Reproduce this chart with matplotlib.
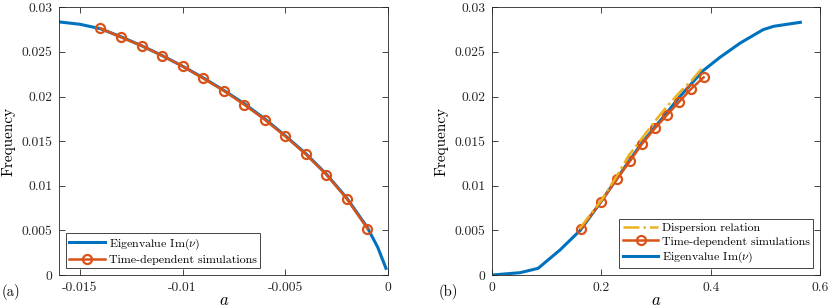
import numpy as np
import matplotlib
matplotlib.use("Agg")
import matplotlib.pyplot as plt

plt.rcParams['font.family'] = 'serif'
plt.rcParams['font.serif'] = ['cmr10', 'DejaVu Serif']
plt.rcParams['mathtext.fontset'] = 'cm'
plt.rcParams['axes.unicode_minus'] = False

# MATLAB default colours
c_blue = '#0072BD'
c_orange = '#D95319'
c_yellow = '#EDB120'

# (a) negative a
eig_a_x = [-0.016, -0.015, -0.014, -0.013, -0.012, -0.011, -0.010, -0.009, -0.008,
           -0.007, -0.006, -0.005, -0.004, -0.003, -0.002, -0.001, -0.0005, -0.0001]
eig_a_y = [0.02836, 0.0281, 0.0276, 0.0267, 0.0257, 0.0246, 0.0234, 0.0221, 0.0207,
           0.0192, 0.0175, 0.0156, 0.0136, 0.0113, 0.0086, 0.0053, 0.0031, 0.00075]
sim_a_x = [-0.014, -0.013, -0.012, -0.011, -0.010, -0.009, -0.008,
           -0.007, -0.006, -0.005, -0.004, -0.003, -0.002, -0.001]
sim_a_y = [0.02765, 0.02664, 0.0257, 0.02458, 0.02339, 0.02204, 0.02066,
           0.01909, 0.01741, 0.01554, 0.01352, 0.01125, 0.00852, 0.00519]

# (b) positive a
eig_b_x = [0.0, 0.051, 0.084, 0.124, 0.161, 0.199, 0.228, 0.252, 0.274, 0.298, 0.32,
           0.342, 0.364, 0.386, 0.417, 0.454, 0.496, 0.515, 0.564]
eig_b_y = [0.0, 0.00026, 0.00075, 0.0028, 0.0050, 0.0082, 0.0108, 0.0129, 0.0148, 0.0166,
           0.0182, 0.0199, 0.0214, 0.0229, 0.0244, 0.0260, 0.0275, 0.02787, 0.02832]
sim_b_x = [0.1618, 0.199, 0.2284, 0.2522, 0.2735, 0.2979, 0.3193, 0.342, 0.3632, 0.387]
sim_b_y = [0.00516, 0.00822, 0.01076, 0.01278, 0.01464, 0.01644, 0.0179, 0.01939, 0.02081, 0.02215]
disp_b_x = [0.16, 0.2, 0.23, 0.25, 0.275, 0.30, 0.32, 0.345, 0.365, 0.386]
disp_b_y = [0.0052, 0.0084, 0.0113, 0.0134, 0.0154, 0.0174, 0.0189, 0.0206, 0.0218, 0.0233]

y_ticks = [0, 0.005, 0.01, 0.015, 0.02, 0.025, 0.03]
y_labels = ['0', '0.005', '0.01', '0.015', '0.02', '0.025', '0.03']
xa_ticks = [-0.015, -0.01, -0.005, 0]
xa_labels = ['-0.015', '-0.01', '-0.005', '0']
xb_ticks = [0, 0.2, 0.4, 0.6]
xb_labels = ['0', '0.2', '0.4', '0.6']

fig = plt.figure(figsize=(8.3, 3.07), dpi=100)
ax1 = fig.add_axes([0.0715, 0.1042, 0.396, 0.872])
ax2 = fig.add_axes([0.593, 0.1042, 0.395, 0.872])

mk = dict(marker='o', markersize=6.5, markerfacecolor='none', markeredgewidth=1.6)

ax1.plot(eig_a_x, eig_a_y, color=c_blue, lw=2.2, label=r'Eigenvalue Im$(\nu)$')
ax1.plot(sim_a_x, sim_a_y, color=c_orange, lw=1.8, label='Time-dependent simulations', **mk)

ax2.plot(disp_b_x, disp_b_y, color=c_yellow, lw=1.8, ls='-.', label='Dispersion relation', zorder=4)
ax2.plot(sim_b_x, sim_b_y, color=c_orange, lw=1.8, label='Time-dependent simulations', zorder=3, **mk)
ax2.plot(eig_b_x, eig_b_y, color=c_blue, lw=2.2, label=r'Eigenvalue Im$(\nu)$', zorder=2)

ax1.set_xlim(-0.016, 0)
ax2.set_xlim(0, 0.6)
ax1.set_xticks(xa_ticks)
ax1.set_xticklabels(xa_labels)
ax2.set_xticks(xb_ticks)
ax2.set_xticklabels(xb_labels)

for ax in (ax1, ax2):
    ax.set_ylim(0, 0.03)
    ax.set_yticks(y_ticks)
    ax.set_yticklabels(y_labels)
    ax.tick_params(direction='in', length=4, width=0.6, top=True, right=True,
                   labelsize=9.8, colors='0.15', pad=5)
    for s in ax.spines.values():
        s.set_linewidth(0.6)
        s.set_color('0.15')
    ax.set_xlabel('$a$', fontsize=12, labelpad=-1)
    ax.set_ylabel('Frequency', fontsize=11, labelpad=4)

leg_kw = dict(fontsize=8.6, fancybox=False, edgecolor='0.15', framealpha=1,
              borderpad=0.3, labelspacing=0.25, handlelength=3.0, handletextpad=0.3,
              borderaxespad=0.55)
l1 = ax1.legend(loc='lower left', **leg_kw)
l2 = ax2.legend(loc='lower right', **leg_kw)
for l in (l1, l2):
    l.get_frame().set_linewidth(0.6)

fig.text(0.002, 0.035, '(a)', fontsize=10.5)
fig.text(0.528, 0.035, '(b)', fontsize=10.5)

fig.savefig('out.png', dpi=100)
